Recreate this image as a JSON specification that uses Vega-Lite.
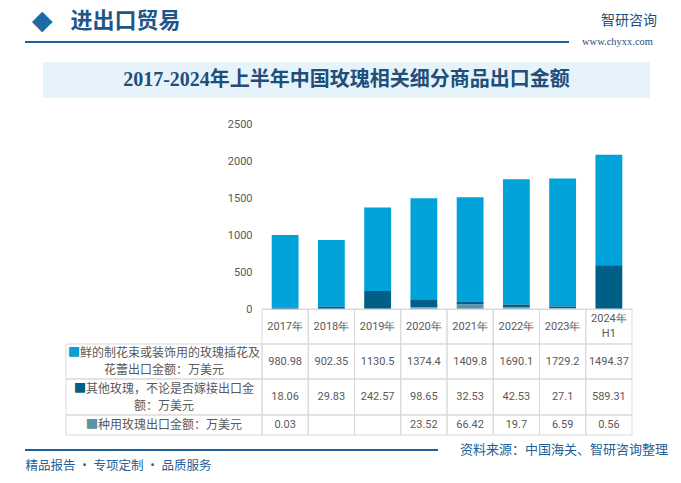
{
  "$schema": "https://vega.github.io/schema/vega-lite/v6.json",
  "padding": 0,
  "background": "white",
  "datasets": {
    "rose": [
      {"year": "2017年", "series": "鲜的制花束或装饰用的玫瑰插花及\n花蕾出口金额：万美元", "value": 980.98},
      {"year": "2017年", "series": "其他玫瑰，不论是否嫁接出口金\n额：万美元", "value": 18.06},
      {"year": "2017年", "series": "种用玫瑰出口金额：万美元", "value": 0.03},
      {"year": "2018年", "series": "鲜的制花束或装饰用的玫瑰插花及\n花蕾出口金额：万美元", "value": 902.35},
      {"year": "2018年", "series": "其他玫瑰，不论是否嫁接出口金\n额：万美元", "value": 29.83},
      {"year": "2019年", "series": "鲜的制花束或装饰用的玫瑰插花及\n花蕾出口金额：万美元", "value": 1130.5},
      {"year": "2019年", "series": "其他玫瑰，不论是否嫁接出口金\n额：万美元", "value": 242.57},
      {"year": "2020年", "series": "鲜的制花束或装饰用的玫瑰插花及\n花蕾出口金额：万美元", "value": 1374.4},
      {"year": "2020年", "series": "其他玫瑰，不论是否嫁接出口金\n额：万美元", "value": 98.65},
      {"year": "2020年", "series": "种用玫瑰出口金额：万美元", "value": 23.52},
      {"year": "2021年", "series": "鲜的制花束或装饰用的玫瑰插花及\n花蕾出口金额：万美元", "value": 1409.8},
      {"year": "2021年", "series": "其他玫瑰，不论是否嫁接出口金\n额：万美元", "value": 32.53},
      {"year": "2021年", "series": "种用玫瑰出口金额：万美元", "value": 66.42},
      {"year": "2022年", "series": "鲜的制花束或装饰用的玫瑰插花及\n花蕾出口金额：万美元", "value": 1690.1},
      {"year": "2022年", "series": "其他玫瑰，不论是否嫁接出口金\n额：万美元", "value": 42.53},
      {"year": "2022年", "series": "种用玫瑰出口金额：万美元", "value": 19.7},
      {"year": "2023年", "series": "鲜的制花束或装饰用的玫瑰插花及\n花蕾出口金额：万美元", "value": 1729.2},
      {"year": "2023年", "series": "其他玫瑰，不论是否嫁接出口金\n额：万美元", "value": 27.1},
      {"year": "2023年", "series": "种用玫瑰出口金额：万美元", "value": 6.59},
      {"year": "2024年\nH1", "series": "鲜的制花束或装饰用的玫瑰插花及\n花蕾出口金额：万美元", "value": 1494.37},
      {"year": "2024年\nH1", "series": "其他玫瑰，不论是否嫁接出口金\n额：万美元", "value": 589.31},
      {"year": "2024年\nH1", "series": "种用玫瑰出口金额：万美元", "value": 0.56}
    ],
    "years": [
      {"year": "2017年"}, {"year": "2018年"}, {"year": "2019年"}, {"year": "2020年"},
      {"year": "2021年"}, {"year": "2022年"}, {"year": "2023年"}, {"year": "2024年\nH1"}
    ],
    "blank": [{"k": 1}]
  },
  "spacing": 0,
  "bounds": "flush",
  "align": "each",
  "columns": 2,
  "concat": [
    {"width": 259, "height": 41, "data": {"name": "blank"},
     "encoding": {"y": {"datum": "c", "type": "nominal", "scale": {"type": "band", "paddingInner": 0, "paddingOuter": 0}, "axis": null}},
     "layer": [
       {"mark": {"type": "text", "font": "DejaVu Sans", "fontSize": 27, "color": "#1B6BA6", "baseline": "middle", "align": "center"},
        "encoding": {"text": {"value": "◆"}, "x": {"datum": "d", "type": "nominal", "scale": {"type": "band", "range": [28, 50], "paddingInner": 0, "paddingOuter": 0}, "axis": null}}},
       {"mark": {"type": "text", "font": "Noto Sans CJK SC", "fontSize": 22, "fontWeight": "bold", "color": "#1E5688", "baseline": "middle", "align": "center"},
        "encoding": {"text": {"value": "进出口贸易"}, "x": {"datum": "t", "type": "nominal", "scale": {"type": "band", "range": [67, 178], "paddingInner": 0, "paddingOuter": 0}, "axis": null}}}
     ],
     "resolve": {"scale": {"x": "independent"}}},
    {"width": 422, "height": 41, "data": {"name": "blank"},
     "mark": {"type": "text", "font": "Noto Sans CJK SC", "fontSize": 14, "color": "#1F4E79", "baseline": "middle", "align": "center"},
     "encoding": {"text": {"value": "智研咨询"},
                  "x": {"datum": "g", "type": "nominal", "scale": {"type": "band", "range": [341, 393], "paddingInner": 0, "paddingOuter": 0}, "axis": null},
                  "y": {"datum": "c", "type": "nominal", "scale": {"type": "band", "paddingInner": 0, "paddingOuter": 0}, "axis": null}}},

    {"width": 259, "height": 2, "data": {"name": "blank"}, "mark": {"type": "rect", "color": "#1F6096"},
     "encoding": {"x": {"datum": "l", "type": "nominal", "scale": {"type": "band", "range": [22, 259], "paddingInner": 0, "paddingOuter": 0}, "axis": null},
                  "y": {"datum": "c", "type": "nominal", "scale": {"type": "band", "paddingInner": 0, "paddingOuter": 0}, "axis": null}}},
    {"width": 422, "height": 2, "data": {"name": "blank"},
     "encoding": {"y": {"datum": "c", "type": "nominal", "scale": {"type": "band", "paddingInner": 0, "paddingOuter": 0}, "axis": null}},
     "layer": [
       {"mark": {"type": "rect", "color": "#1F6096"},
        "encoding": {"x": {"datum": "l", "type": "nominal", "scale": {"type": "band", "range": [0, 307], "paddingInner": 0, "paddingOuter": 0}, "axis": null}}},
       {"mark": {"type": "text", "font": "Liberation Serif", "fontSize": 10.5, "color": "#1F4E79", "baseline": "middle", "align": "center"},
        "encoding": {"text": {"value": "www.chyxx.com"}, "x": {"datum": "w", "type": "nominal", "scale": {"type": "band", "range": [317, 394], "paddingInner": 0, "paddingOuter": 0}, "axis": null}}}
     ],
     "resolve": {"scale": {"x": "independent"}}},

    {"width": 1, "height": 19, "data": {"name": "blank"}, "mark": {"type": "point", "opacity": 0}, "encoding": {}},
    {"width": 1, "height": 19, "data": {"name": "blank"}, "mark": {"type": "point", "opacity": 0}, "encoding": {}},

    {"width": 259, "height": 36, "data": {"name": "blank"}, "mark": {"type": "rect", "color": "#E6F3FB"},
     "encoding": {"x": {"datum": "b", "type": "nominal", "scale": {"type": "band", "range": [40, 259], "paddingInner": 0, "paddingOuter": 0}, "axis": null},
                  "y": {"datum": "c", "type": "nominal", "scale": {"type": "band", "paddingInner": 0, "paddingOuter": 0}, "axis": null}}},
    {"width": 422, "height": 36, "data": {"name": "blank"},
     "encoding": {"y": {"datum": "c", "type": "nominal", "scale": {"type": "band", "paddingInner": 0, "paddingOuter": 0}, "axis": null}},
     "layer": [
       {"mark": {"type": "rect", "color": "#E6F3FB"},
        "encoding": {"x": {"datum": "b", "type": "nominal", "scale": {"type": "band", "range": [0, 388], "paddingInner": 0, "paddingOuter": 0}, "axis": null}}},
       {"mark": {"type": "text", "font": "Liberation Serif, Noto Sans CJK SC", "fontSize": 20, "fontWeight": "bold", "color": "#1F4E79", "baseline": "middle", "align": "center"},
        "encoding": {"text": {"value": "2017-2024年上半年中国玫瑰相关细分商品出口金额"}, "x": {"datum": "t", "type": "nominal", "scale": {"type": "band", "range": [0, 169], "paddingInner": 0, "paddingOuter": 0}, "axis": null}}}
     ],
     "resolve": {"scale": {"x": "independent"}}},

    {"width": 1, "height": 26, "data": {"name": "blank"}, "mark": {"type": "point", "opacity": 0}, "encoding": {}},
    {"width": 1, "height": 26, "data": {"name": "blank"}, "mark": {"type": "point", "opacity": 0}, "encoding": {}},

    {"width": 259, "height": 185, "data": {"name": "blank"}, "mark": {"type": "point", "opacity": 0}, "encoding": {}},
    {
      "width": 370, "height": 185,
      "data": {"name": "rose"},
      "transform": [{"calculate": "indexof(['种用','其他','鲜的'], substring(datum.series,0,2))", "as": "stackOrder"}],
      "mark": {"type": "bar", "width": {"band": 0.58}},
      "encoding": {
        "x": {"field": "year", "type": "nominal", "sort": null,
              "scale": {"domain": ["2017年", "2018年", "2019年", "2020年", "2021年", "2022年", "2023年", "2024年\nH1"], "paddingInner": 0, "paddingOuter": 0},
              "axis": {"labels": false, "ticks": false, "domain": true, "domainColor": "#D9D9D9", "title": null, "grid": false}},
        "y": {"field": "value", "type": "quantitative", "stack": "zero",
              "scale": {"domain": [0, 2500], "nice": false},
              "axis": {"values": [0, 500, 1000, 1500, 2000, 2500], "format": "d", "grid": false, "domain": false, "ticks": false, "labelPadding": 10, "labelColor": "#595959", "labelFont": "Roboto", "labelFontSize": 11, "title": null}},
        "color": {"field": "series", "type": "nominal",
                  "scale": {"domain": ["鲜的制花束或装饰用的玫瑰插花及\n花蕾出口金额：万美元", "其他玫瑰，不论是否嫁接出口金\n额：万美元", "种用玫瑰出口金额：万美元"], "range": ["#00A2DA", "#005F87", "#5B93AC"]},
                  "legend": null},
        "order": {"field": "stackOrder", "type": "quantitative", "sort": "ascending"}
      }
    },

    {"width": 259, "height": 35, "data": {"name": "blank"}, "mark": {"type": "point", "opacity": 0}, "encoding": {}},
    {
      "width": 370, "height": 35,
      "data": {"name": "years"},
      "encoding": {
        "x": {"field": "year", "type": "nominal", "sort": null,
              "scale": {"domain": ["2017年", "2018年", "2019年", "2020年", "2021年", "2022年", "2023年", "2024年\nH1"], "paddingInner": 0, "paddingOuter": 0},
              "axis": null}
      },
      "layer": [
        {"mark": {"type": "rect", "fill": "transparent", "stroke": "#D9D9D9", "strokeWidth": 1}},
        {"transform": [{"filter": "indexof(datum.year, '\\n') < 0"}],
         "mark": {"type": "text", "font": "Roboto", "fontSize": 11, "color": "#595959", "baseline": "middle"},
         "encoding": {"text": {"field": "year", "type": "nominal"}}},
        {"transform": [{"filter": "indexof(datum.year, '\\n') >= 0"}],
         "mark": {"type": "text", "lineBreak": "\n", "lineHeight": 15, "dy": -7.5, "font": "Roboto", "fontSize": 11, "color": "#595959", "baseline": "middle"},
         "encoding": {"text": {"field": "year", "type": "nominal"}}}
      ]
    },

    {
      "width": 259, "height": 35,
      "data": {"name": "rose"},
      "transform": [{"filter": "indexof(datum.series,'鲜的')===0 && datum.year==='2017年'"}, {"calculate": "'■' + datum.series", "as": "lbl"}],
      "encoding": {"x": {"datum": "h", "type": "nominal", "scale": {"type": "band", "range": [63, 259], "paddingInner": 0, "paddingOuter": 0}, "axis": null},
                   "y": {"datum": "c", "type": "nominal", "scale": {"type": "band", "paddingInner": 0, "paddingOuter": 0}, "axis": null}},
      "layer": [
        {"mark": {"type": "rect", "fill": "transparent", "stroke": "#D9D9D9", "strokeWidth": 1}},
        {"mark": {"type": "text", "lineBreak": "\n", "lineHeight": 17, "dy": -8.5, "font": "Noto Sans CJK SC", "fontSize": 12, "color": "#595959", "baseline": "middle", "align": "center"},
         "encoding": {"text": {"field": "lbl", "type": "nominal"}}},
        {"mark": {"type": "text", "lineBreak": "\n", "lineHeight": 17, "dy": -8.5, "font": "Noto Sans CJK SC", "fontSize": 12, "color": "#00A2DA", "baseline": "middle", "align": "center"},
         "encoding": {"text": {"value": "■　　　　　　　　　　　　　　　⁠\n⁠　⁠"}}}
      ]
    },
    {
      "width": 370, "height": 35,
      "encoding": {
        "x": {"field": "year", "type": "nominal", "sort": null,
              "scale": {"domain": ["2017年", "2018年", "2019年", "2020年", "2021年", "2022年", "2023年", "2024年\nH1"], "paddingInner": 0, "paddingOuter": 0},
              "axis": null}
      },
      "layer": [
        {"data": {"name": "years"}, "mark": {"type": "rect", "fill": "transparent", "stroke": "#D9D9D9", "strokeWidth": 1}},
        {"data": {"name": "rose"}, "transform": [{"filter": "indexof(datum.series,'鲜的')===0"}],
         "mark": {"type": "text", "font": "Roboto", "fontSize": 11, "color": "#595959", "baseline": "middle"},
         "encoding": {"text": {"field": "value", "type": "nominal"}}}
      ]
    },

    {
      "width": 259, "height": 36,
      "data": {"name": "rose"},
      "transform": [{"filter": "indexof(datum.series,'其他')===0 && datum.year==='2017年'"}, {"calculate": "'■' + datum.series", "as": "lbl"}],
      "encoding": {"x": {"datum": "h", "type": "nominal", "scale": {"type": "band", "range": [63, 259], "paddingInner": 0, "paddingOuter": 0}, "axis": null},
                   "y": {"datum": "c", "type": "nominal", "scale": {"type": "band", "paddingInner": 0, "paddingOuter": 0}, "axis": null}},
      "layer": [
        {"mark": {"type": "rect", "fill": "transparent", "stroke": "#D9D9D9", "strokeWidth": 1}},
        {"mark": {"type": "text", "lineBreak": "\n", "lineHeight": 17, "dy": -8.5, "font": "Noto Sans CJK SC", "fontSize": 12, "color": "#595959", "baseline": "middle", "align": "center"},
         "encoding": {"text": {"field": "lbl", "type": "nominal"}}},
        {"mark": {"type": "text", "lineBreak": "\n", "lineHeight": 17, "dy": -8.5, "font": "Noto Sans CJK SC", "fontSize": 12, "color": "#005F87", "baseline": "middle", "align": "center"},
         "encoding": {"text": {"value": "■　　　　　　　　　　　　　　⁠\n⁠　⁠"}}}
      ]
    },
    {
      "width": 370, "height": 36,
      "encoding": {
        "x": {"field": "year", "type": "nominal", "sort": null,
              "scale": {"domain": ["2017年", "2018年", "2019年", "2020年", "2021年", "2022年", "2023年", "2024年\nH1"], "paddingInner": 0, "paddingOuter": 0},
              "axis": null}
      },
      "layer": [
        {"data": {"name": "years"}, "mark": {"type": "rect", "fill": "transparent", "stroke": "#D9D9D9", "strokeWidth": 1}},
        {"data": {"name": "rose"}, "transform": [{"filter": "indexof(datum.series,'其他')===0"}],
         "mark": {"type": "text", "font": "Roboto", "fontSize": 11, "color": "#595959", "baseline": "middle"},
         "encoding": {"text": {"field": "value", "type": "nominal"}}}
      ]
    },

    {
      "width": 259, "height": 20,
      "data": {"name": "rose"},
      "transform": [{"filter": "indexof(datum.series,'种用')===0 && datum.year==='2017年'"}, {"calculate": "'■' + datum.series", "as": "lbl"}],
      "encoding": {"x": {"datum": "h", "type": "nominal", "scale": {"type": "band", "range": [63, 259], "paddingInner": 0, "paddingOuter": 0}, "axis": null},
                   "y": {"datum": "c", "type": "nominal", "scale": {"type": "band", "paddingInner": 0, "paddingOuter": 0}, "axis": null}},
      "layer": [
        {"mark": {"type": "rect", "fill": "transparent", "stroke": "#D9D9D9", "strokeWidth": 1}},
        {"mark": {"type": "text", "font": "Noto Sans CJK SC", "fontSize": 12, "color": "#595959", "baseline": "middle", "align": "center"},
         "encoding": {"text": {"field": "lbl", "type": "nominal"}}},
        {"mark": {"type": "text", "font": "Noto Sans CJK SC", "fontSize": 12, "color": "#5B93AC", "baseline": "middle", "align": "center"},
         "encoding": {"text": {"value": "■　　　　　　　　　　　　⁠"}}}
      ]
    },
    {
      "width": 370, "height": 20,
      "encoding": {
        "x": {"field": "year", "type": "nominal", "sort": null,
              "scale": {"domain": ["2017年", "2018年", "2019年", "2020年", "2021年", "2022年", "2023年", "2024年\nH1"], "paddingInner": 0, "paddingOuter": 0},
              "axis": null}
      },
      "layer": [
        {"data": {"name": "years"}, "mark": {"type": "rect", "fill": "transparent", "stroke": "#D9D9D9", "strokeWidth": 1}},
        {"data": {"name": "rose"}, "transform": [{"filter": "indexof(datum.series,'种用')===0"}],
         "mark": {"type": "text", "font": "Roboto", "fontSize": 11, "color": "#595959", "baseline": "middle"},
         "encoding": {"text": {"field": "value", "type": "nominal"}}}
      ]
    },

    {"width": 1, "height": 14, "data": {"name": "blank"}, "mark": {"type": "point", "opacity": 0}, "encoding": {}},
    {"width": 1, "height": 14, "data": {"name": "blank"}, "mark": {"type": "point", "opacity": 0}, "encoding": {}},

    {"width": 259, "height": 2, "data": {"name": "blank"}, "mark": {"type": "rect", "color": "#1F6096"},
     "encoding": {"x": {"datum": "l", "type": "nominal", "scale": {"type": "band", "range": [22, 259], "paddingInner": 0, "paddingOuter": 0}, "axis": null},
                  "y": {"datum": "c", "type": "nominal", "scale": {"type": "band", "paddingInner": 0, "paddingOuter": 0}, "axis": null}}},
    {"width": 422, "height": 2, "data": {"name": "blank"},
     "encoding": {"y": {"datum": "c", "type": "nominal", "scale": {"type": "band", "paddingInner": 0, "paddingOuter": 0}, "axis": null}},
     "layer": [
       {"mark": {"type": "rect", "color": "#1F6096"},
        "encoding": {"x": {"datum": "l", "type": "nominal", "scale": {"type": "band", "range": [0, 176], "paddingInner": 0, "paddingOuter": 0}, "axis": null}}},
       {"mark": {"type": "text", "font": "Noto Sans CJK SC", "fontSize": 13, "color": "#1F5E96", "baseline": "middle", "align": "center"},
        "encoding": {"text": {"value": "资料来源：中国海关、智研咨询整理"}, "x": {"datum": "s", "type": "nominal", "scale": {"type": "band", "range": [196, 408], "paddingInner": 0, "paddingOuter": 0}, "axis": null}}}
     ],
     "resolve": {"scale": {"x": "independent"}}},

    {"width": 259, "height": 30, "data": {"name": "blank"},
     "mark": {"type": "text", "font": "Noto Sans CJK SC", "fontSize": 12.5, "color": "#1F5E96", "baseline": "middle", "align": "center"},
     "encoding": {"text": {"value": "精品报告 · 专项定制 · 品质服务"},
                  "x": {"datum": "f", "type": "nominal", "scale": {"type": "band", "range": [23, 208], "paddingInner": 0, "paddingOuter": 0}, "axis": null},
                  "y": {"datum": "c", "type": "nominal", "scale": {"type": "band", "paddingInner": 0, "paddingOuter": 0}, "axis": null}}},
    {"width": 1, "height": 30, "data": {"name": "blank"}, "mark": {"type": "point", "opacity": 0}, "encoding": {}}
  ],
  "config": {
    "view": {"stroke": null}
  }
}
